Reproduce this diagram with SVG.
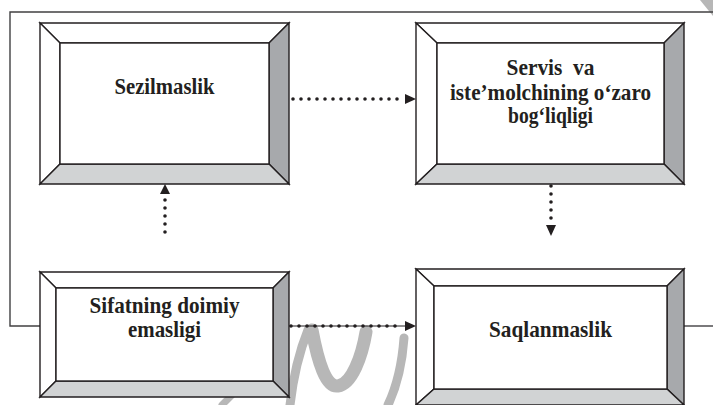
<svg xmlns="http://www.w3.org/2000/svg" width="713" height="405" viewBox="0 0 713 405">
<style>
.wm{fill:none;stroke:#b7b7b7;stroke-linecap:round}
.edge{stroke:#231f20;stroke-width:1.4;stroke-linejoin:miter}
.lt{fill:#ffffff}
.rt{fill:#a7a9ac}
.bt{fill:#d1d3d4}
.face{fill:#ffffff}
.lbl{font-family:"Liberation Serif","Times New Roman",serif;font-weight:bold;font-size:23px;fill:#231f20;text-anchor:middle}
.frame{fill:none;stroke:#414042;stroke-width:1.4}
.dots{fill:none;stroke:#231f20;stroke-width:3.6;stroke-linecap:round;stroke-dasharray:0 8}
.thin{fill:none;stroke:#231f20;stroke-width:1}
.head{fill:#231f20}
</style>
<rect x="0" y="0" width="713" height="405" fill="#ffffff"/>
<g id="watermark">
<path class="wm" d="M290 405 Q295 362 308 330" stroke-width="9"/>
<path class="wm" d="M312 330 C318 362 326 388 338 386 C352 384 362 356 366 332" stroke-width="13"/>
<path class="wm" d="M404 338 C402 366 396 388 388 405" stroke-width="9"/>
<path class="wm" d="M222 405 L236 391" stroke-width="7"/>
<polygon points="700,0 713,0 713,16" fill="#b7b7b7"/>
</g>
<g id="frame">
<polyline class="frame" points="40,326 10,326 10,12 713,12"/>
<line class="frame" x1="684" y1="326" x2="713" y2="326"/>
</g>
<g id="node-sezilmaslik">
<polygon class="lt edge" points="40,23 289,23 269,43 60,43"/>
<polygon class="lt edge" points="40,23 60,43 60,164 40,184"/>
<polygon class="rt edge" points="289,23 289,184 269,164 269,43"/>
<polygon class="bt edge" points="40,184 289,184 269,164 60,164"/>
<rect class="face edge" x="60" y="43" width="209" height="121"/>
<text class="lbl" x="164.5" y="94" textLength="100" lengthAdjust="spacingAndGlyphs">Sezilmaslik</text>
</g>
<g id="node-servis">
<polygon class="lt edge" points="416,23 684,23 664,43 437,43"/>
<polygon class="lt edge" points="416,23 437,43 437,164 416,184"/>
<polygon class="rt edge" points="684,23 684,184 664,164 664,43"/>
<polygon class="bt edge" points="416,184 684,184 664,164 437,164"/>
<rect class="face edge" x="437" y="43" width="227" height="121"/>
<text class="lbl" x="550.5" y="75" textLength="88" lengthAdjust="spacingAndGlyphs">Servis&#160; va</text>
<text class="lbl" x="550.5" y="100" textLength="201" lengthAdjust="spacingAndGlyphs">iste’molchining o‘zaro</text>
<text class="lbl" x="550.5" y="123" textLength="85" lengthAdjust="spacingAndGlyphs">bog‘liqligi</text>
</g>
<g id="node-sifatning">
<polygon class="lt edge" points="40,272 289,272 273,288 56,288"/>
<polygon class="lt edge" points="40,272 56,288 56,381 40,397"/>
<polygon class="rt edge" points="289,272 289,397 273,381 273,288"/>
<polygon class="bt edge" points="40,397 289,397 273,381 56,381"/>
<rect class="face edge" x="56" y="288" width="217" height="93"/>
<text class="lbl" x="164.5" y="313" textLength="150" lengthAdjust="spacingAndGlyphs">Sifatning doimiy</text>
<text class="lbl" x="164.5" y="337" textLength="73" lengthAdjust="spacingAndGlyphs">emasligi</text>
</g>
<g id="node-saqlanmaslik">
<polygon class="lt edge" points="416,269 684,269 667,286 434,286"/>
<polygon class="lt edge" points="416,269 434,286 434,389 416,405"/>
<polygon class="rt edge" points="684,269 684,405 667,389 667,286"/>
<polygon class="bt edge" points="416,405 684,405 667,389 434,389"/>
<rect class="face edge" x="434" y="286" width="233" height="103"/>
<text class="lbl" x="550.5" y="337" textLength="123" lengthAdjust="spacingAndGlyphs">Saqlanmaslik</text>
</g>
<g id="connectors">
<line class="dots" x1="293" y1="99" x2="403" y2="99"/>
<polygon class="head" points="416,99 405,94 405,104"/>
<line class="dots" x1="165" y1="232" x2="165" y2="198"/>
<polygon class="head" points="165,184 160,194 170,194"/>
<line class="dots" x1="551" y1="186" x2="551" y2="222"/>
<polygon class="head" points="551,236 546,225 556,225"/>
<line class="thin" x1="289" y1="326" x2="406" y2="326"/>
<line class="dots" x1="291" y1="326" x2="403" y2="326"/>
<polygon class="head" points="416,326 405,321 405,331"/>
</g>
</svg>
